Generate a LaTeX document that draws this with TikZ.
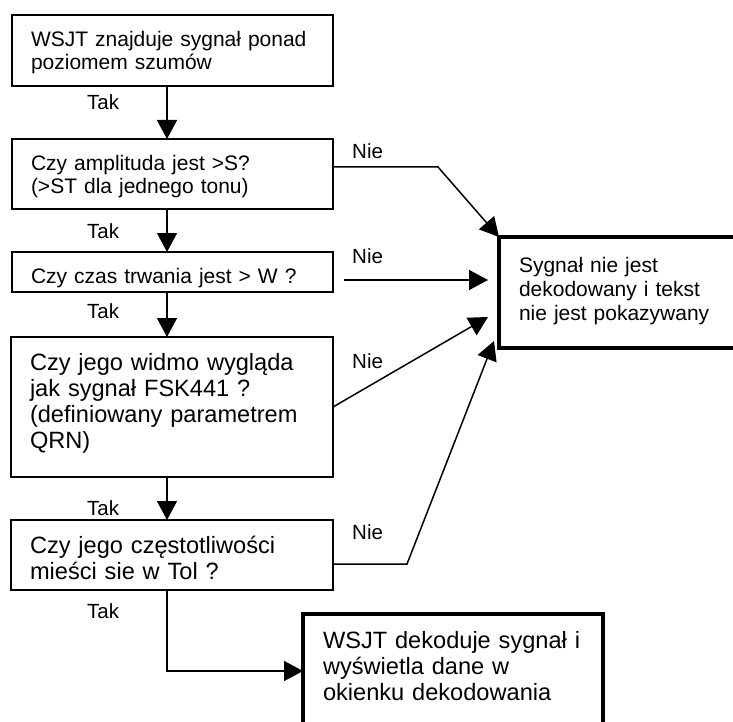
\documentclass[tikz,border=0pt]{standalone}
\usepackage{fontspec}
\setmainfont{Liberation Sans}
\usetikzlibrary{arrows.meta}

\begin{document}
\begin{tikzpicture}[x = 1pt, y = -1pt,
    box/.style = {draw, line width = 1.6pt, anchor = north west, align = left, inner xsep = 19pt, inner ysep = 0pt, outer sep = 0pt},
    heavy/.style = {box, line width = 3.8pt, inner xsep = 20pt},
    small/.style = {font = \fontsize{21}{22.5}\selectfont},
    large/.style = {font = \fontsize{23.6}{26}\selectfont},
    answer/.style = {anchor = base west, inner sep = 0pt, font = \fontsize{20.5}{22}\selectfont},
    flow/.style = {line width = 1.5pt, -{Triangle[length = 19pt, width = 20pt]}}]
  \useasboundingbox (0,0) rectangle (733,722);
  \node[box, small, text width = 283pt, text height = 32pt, text depth = 39pt] (find) at (12,15) {WSJT znajduje sygnał ponad\\ poziomem szumów};
  \node[box, small, text width = 283pt, text height = 32pt, text depth = 38pt] (ampl) at (12,139) {Czy amplituda jest >S?\\ (>ST dla jednego tonu)};
  \node[box, small, text width = 283pt, text height = 31pt, text depth = 9pt] (czas) at (12,252) {Czy czas trwania jest > W ?};
  \node[box, large, text width = 284pt, text height = 33pt, text depth = 107pt] (widmo) at (11,337) {Czy jego widmo wygląda\\ jak sygnał FSK441 ?\\ (definiowany parametrem\\ QRN)};
  \node[box, large, text width = 284pt, text height = 33pt, text depth = 37pt] (pasmo) at (11,520) {Czy jego częstotliwości\\ mieści sie w Tol ?};
  \node[heavy, font = \fontsize{21}{24}\selectfont, text width = 211pt, text height = 35pt, text depth = 76pt] (odrzut) at (499,237) {Sygnał nie jest\\ dekodowany i tekst\\ nie jest pokazywany};
  \node[heavy, large, text width = 260pt, text height = 34pt, text depth = 120pt] (wynik) at (303,614) {WSJT dekoduje sygnał i\\ wyświetla dane w\\ okienku dekodowania};

  \foreach \y [count = \i] in {110, 238, 318, 515, 618}
    \node[answer] (tak\i) at (87,\y) {Tak};
  \foreach \y [count = \i] in {159, 263, 368, 539}
    \node[answer] (nie\i) at (352,\y) {Nie};

  \coordinate (spine) at (167,0);
  \coordinate (bend) at (438,167);
  \coordinate (kink) at (407,564);
  \coordinate (knee) at (167,671);
  \draw[flow] (find.south -| spine) -- (ampl.north -| spine);
  \draw[flow] (ampl.south -| spine) -- (czas.north -| spine);
  \draw[flow] (czas.south -| spine) -- (widmo.north -| spine);
  \draw[flow] (widmo.south -| spine) -- (pasmo.north -| spine);
  \draw[flow] (pasmo.south -| knee) -- (knee) -- (knee -| wynik.west);
  \draw[flow] (ampl.east |- bend) -- (bend) -- (odrzut.north west);
  \draw[flow, shorten <= 11pt, shorten >= 11pt] ([yshift = -8pt]czas.east) -- ([yshift = -8pt]czas.east -| odrzut.west);
  \draw[flow] (widmo.east) -- ([xshift = -11pt, yshift = -24.5pt]odrzut.west);
  \draw[flow] ([yshift = -9pt]pasmo.east) -- (kink) -- ([xshift = -5pt, yshift = 7pt]odrzut.south west);
\end{tikzpicture}
\end{document}
